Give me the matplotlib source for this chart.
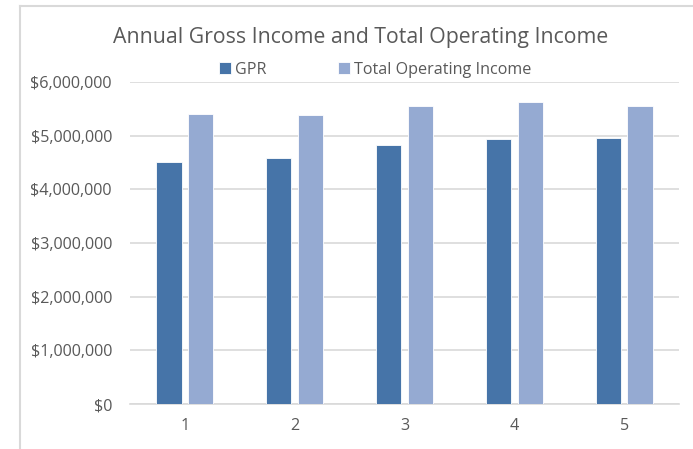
import numpy as np
import matplotlib
matplotlib.use("Agg")
import matplotlib.pyplot as plt
from matplotlib.lines import Line2D
from matplotlib.ticker import FuncFormatter

years = ["1", "2", "3", "4", "5"]
gpr = [4505000, 4590000, 4820000, 4930000, 4965000]
total_operating_income = [5405000, 5390000, 5555000, 5620000, 5555000]

text_color = "#595959"
grid_color = "#D9D9D9"

plt.rcParams["font.family"] = ["Open Sans", "DejaVu Sans"]

fig = plt.figure(figsize=(6.93, 4.49), dpi=100)
ax = fig.add_axes([130 / 693, 1 - 404 / 449, 549 / 693, 322 / 449])

x = np.arange(len(years))
width = 0.23
offset = 0.145
ax.bar(x - offset, gpr, width, color="#4674A8", edgecolor="white", linewidth=0.6,
       label="GPR", zorder=3)
ax.bar(x + offset, total_operating_income, width, color="#95AAD2", edgecolor="white",
       linewidth=0.6, label="Total Operating Income", zorder=3)

ax.set_xlim(-0.5, len(years) - 0.5)
ax.set_ylim(0, 6000000)
ax.set_yticks(np.arange(0, 6000001, 1000000))
ax.yaxis.set_major_formatter(FuncFormatter(lambda v, _: "${:,.0f}".format(v)))
ax.set_xticks(x)
ax.set_xticklabels(years)

ax.grid(axis="y", color=grid_color, linewidth=1.2, zorder=0)
for side in ["top", "right", "left"]:
    ax.spines[side].set_visible(False)
ax.spines["bottom"].set_color(grid_color)
ax.spines["bottom"].set_linewidth(1.2)
ax.tick_params(length=0, colors=text_color, labelsize=11.6)
ax.tick_params(axis="y", pad=13)
ax.tick_params(axis="x", pad=10)

fig.text(361 / 693, 1 - 38 / 449, "Annual Gross Income and Total Operating Income",
         ha="center", va="center", fontsize=15.3, color=text_color)

ax.legend(loc="center", bbox_to_anchor=(375 / 693, 1 - 70 / 449),
          bbox_transform=fig.transFigure, ncol=2, frameon=False,
          fontsize=11.6, labelcolor=text_color, handlelength=0.75, handleheight=0.75,
          handletextpad=0.25, columnspacing=4.4)

# outer chart frame, cropped at the right and bottom
fig.add_artist(Line2D([20 / 693, 20 / 693], [0, 1 - 5.7 / 449], transform=fig.transFigure,
                      color=grid_color, linewidth=1.5))
fig.add_artist(Line2D([20 / 693, 1], [1 - 5.7 / 449, 1 - 5.7 / 449], transform=fig.transFigure,
                      color=grid_color, linewidth=1.5))

fig.savefig("out.png", dpi=100)
